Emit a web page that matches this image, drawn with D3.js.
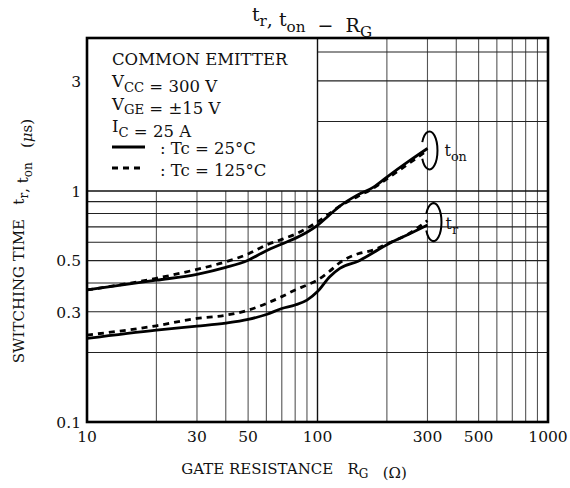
<!DOCTYPE html>
<html><head><meta charset="utf-8">
<script src="https://cdn.jsdelivr.net/npm/d3@7"></script>
<style>body{margin:0;background:#fff}svg text{font-family:"DejaVu Serif",serif;fill:#111;white-space:pre}</style>
</head><body><svg id="c" width="570" height="488"></svg>
<script>
// ---- data ----
const rg     = [10, 20, 30, 40, 50, 60, 70, 80, 90, 100, 113, 125, 150, 175, 200, 250, 300];
const ton25  = [0.373,0.411,0.436,0.467,0.502,0.552,0.59,0.624,0.663,0.71,0.79,0.86,0.965,1.04,1.15,1.35,1.53];
const ton125 = [0.373,0.419,0.458,0.494,0.534,0.584,0.618,0.65,0.69,0.736,0.80,0.86,0.95,1.03,1.13,1.32,1.50];
const tr25   = [0.230,0.25,0.26,0.268,0.278,0.292,0.31,0.321,0.337,0.367,0.426,0.463,0.497,0.542,0.586,0.652,0.712];
const tr125  = [0.238,0.261,0.281,0.29,0.305,0.326,0.349,0.373,0.392,0.412,0.45,0.49,0.535,0.556,0.59,0.655,0.745];
const xTickLabels = [10, 30, 50, 100, 300, 500, 1000];
const yTickLabels = [0.1, 0.3, 0.5, 1, 3];
const legendText = [
  [["COMMON EMITTER"]],
  [["V"],["CC","sub"],[" = 300 V"]],
  [["V"],["GE","sub"],[" = \u00b115 V"]],
  [["I"],["C","sub"],[" = 25 A"]]
];
const seriesLabels = [": Tc = 25\u00b0C", ": Tc = 125\u00b0C"];

// ---- layout ----
const L=87, R=548, T=38, B=422;
const svg = d3.select("#c");
const x = d3.scaleLog().domain([10,1000]).range([L,R]);
const y = d3.scaleLog().domain([0.1,4.6]).range([B,T]);

function rich(sel, parts, size){
  parts.forEach(p=>{
    if(p[1]==="sub"){
      sel.append("tspan").attr("font-size",size*0.8).attr("dy",size*0.28).text(p[0]);
      sel.append("tspan").attr("dy",-size*0.28).text("");
    } else sel.append("tspan").text(p[0]);
  });
  return sel;
}

// grid
const g = svg.append("g");
const vMinorLow = d3.range(2,10).map(k=>k*10);
const vHigh = d3.range(2,10).map(k=>k*100);
vMinorLow.forEach(v=>g.append("line").attr("x1",x(v)).attr("x2",x(v)).attr("y1",y(1)).attr("y2",B).attr("stroke","#555").attr("stroke-width",1.1));
vHigh.forEach(v=>g.append("line").attr("x1",x(v)).attr("x2",x(v)).attr("y1",T).attr("y2",B).attr("stroke","#555").attr("stroke-width",1.1));
const hLow = d3.range(2,10).map(k=>k/10);
hLow.forEach(v=>g.append("line").attr("x1",L).attr("x2",R).attr("y1",y(v)).attr("y2",y(v)).attr("stroke","#222").attr("stroke-width",1.1));
[2,3,4].forEach(v=>g.append("line").attr("x1",x(100)).attr("x2",R).attr("y1",y(v)).attr("y2",y(v)).attr("stroke","#222").attr("stroke-width",1.1));
g.append("line").attr("x1",x(100)).attr("x2",x(100)).attr("y1",T).attr("y2",B).attr("stroke","#111").attr("stroke-width",1.4);
g.append("line").attr("x1",L).attr("x2",R).attr("y1",y(1)).attr("y2",y(1)).attr("stroke","#111").attr("stroke-width",1.4);

// frame
svg.append("rect").attr("x",L).attr("y",T).attr("width",R-L).attr("height",B-T).attr("fill","none").attr("stroke","#000").attr("stroke-width",2.6);

// ticks
yTickLabels.forEach(v=>svg.append("text").attr("x",L-6).attr("y",y(v)).attr("dy","0.38em").attr("text-anchor","end").attr("font-size",15.5).text(v));
xTickLabels.forEach(v=>svg.append("text").attr("x",x(v)).attr("y",B+20).attr("text-anchor","middle").attr("font-size",15.5).text(v));

// curves
const line = d3.line().x(d=>x(d[0])).y(d=>y(d[1])).curve(d3.curveMonotoneX);
const series = [[ton25,false],[ton125,true],[tr25,false],[tr125,true]];
series.forEach(([vals,dash])=>{
  svg.append("path").attr("d",line(rg.map((r,i)=>[r,vals[i]]))).attr("fill","none").attr("stroke","#000")
    .attr("stroke-width",2.8).attr("stroke-dasharray",dash?"6,5":null);
});

// brackets
function bracket(cx,cy,rx,ry){
  const a0=206*Math.PI/180, a1=154*Math.PI/180;
  const p0=[cx+rx*Math.cos(a0), cy+ry*Math.sin(a0)];
  const p1=[cx+rx*Math.cos(a1), cy+ry*Math.sin(a1)];
  svg.append("path").attr("d",`M${p0[0]},${p0[1]} A${rx},${ry} 0 1 1 ${p1[0]},${p1[1]}`)
    .attr("fill","none").attr("stroke","#000").attr("stroke-width",2);
}
bracket(x(300)+2, y(ton25[16])+2, 8, 19);
bracket(x(300)+6, y(tr25[16])-3, 8, 19);
rich(svg.append("text").attr("x",x(300)+17).attr("y",y(ton25[16])+8).attr("font-size",16),[["t"],["on","sub"]],16);
rich(svg.append("text").attr("x",x(300)+18).attr("y",y(tr25[16])+4).attr("font-size",16),[["t"],["r","sub"]],16);

// legend
const lg = svg.append("g");
legendText.forEach((parts,i)=>{
  rich(lg.append("text").attr("x",112).attr("y",65+i*22.3).attr("font-size",16.5),parts,16.5);
});
lg.append("line").attr("x1",112).attr("x2",145).attr("y1",147).attr("y2",147).attr("stroke","#000").attr("stroke-width",2.8);
lg.append("line").attr("x1",112).attr("x2",142).attr("y1",168).attr("y2",168).attr("stroke","#000").attr("stroke-width",2.8).attr("stroke-dasharray","6,5");
seriesLabels.forEach((t,i)=>lg.append("text").attr("x",160).attr("y",154+i*22.3).attr("font-size",16.5).text(t));

// title
const title = svg.append("text").attr("x",312).attr("y",21).attr("text-anchor","middle").attr("font-size",19);
rich(title,[["t"],["r","sub"],[", t"],["on","sub"],["  \u2212  R"],["G","sub"]],19);

// axis labels
const xl = svg.append("text").attr("x",294).attr("y",474).attr("text-anchor","middle").attr("font-size",15);
rich(xl,[["GATE RESISTANCE   R"],["G","sub"],["   (\u03a9)"]],15);
const yl = svg.append("text").attr("transform","translate(24,241) rotate(-90)").attr("text-anchor","middle").attr("font-size",15);
rich(yl,[["SWITCHING TIME   t"],["r","sub"],[", t"],["on","sub"],["   ("]],15);
yl.append("tspan").attr("font-style","italic").text("\u03bc");
yl.append("tspan").text("s)");
</script></body></html>
